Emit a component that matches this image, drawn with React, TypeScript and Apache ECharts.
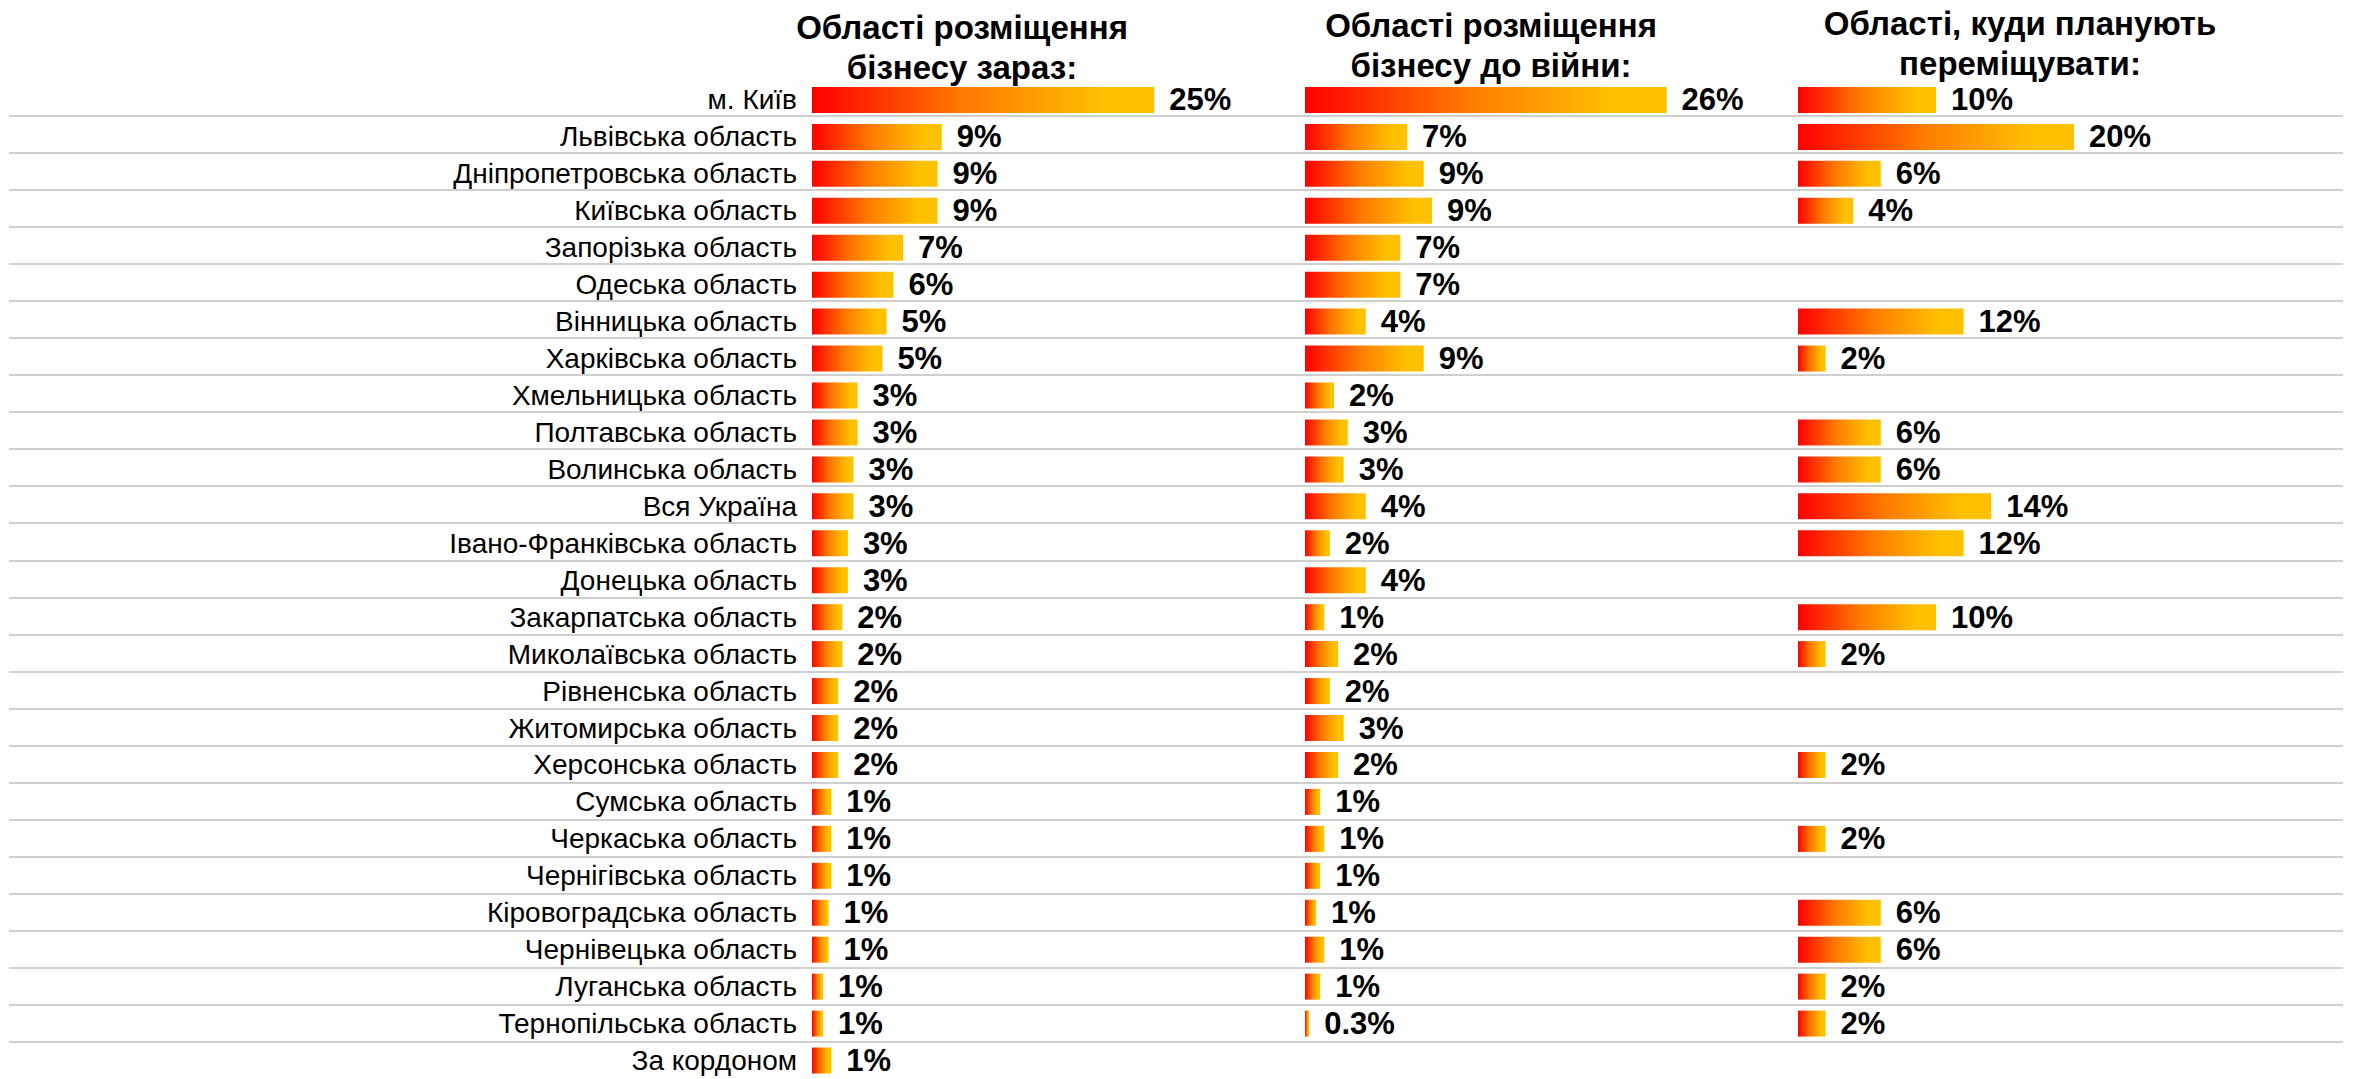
import React, { useEffect, useRef } from "react";
import * as echarts from "echarts";

const categories = [
  "м. Київ",
  "Львівська область",
  "Дніпропетровська область",
  "Київська область",
  "Запорізька область",
  "Одеська область",
  "Вінницька область",
  "Харківська область",
  "Хмельницька область",
  "Полтавська область",
  "Волинська область",
  "Вся Україна",
  "Івано-Франківська область",
  "Донецька область",
  "Закарпатська область",
  "Миколаївська область",
  "Рівненська область",
  "Житомирська область",
  "Херсонська область",
  "Сумська область",
  "Черкаська область",
  "Чернігівська область",
  "Кіровоградська область",
  "Чернівецька область",
  "Луганська область",
  "Тернопільська область",
  "За кордоном",
];

const currentValues = [
  24.8, 9.4, 9.1, 9.1, 6.6, 5.9, 5.4, 5.1, 3.3, 3.3, 3.0, 3.0, 2.6, 2.6, 2.2,
  2.2, 1.9, 1.9, 1.9, 1.4, 1.4, 1.4, 1.2, 1.2, 0.8, 0.8, 1.4,
];

const prewarValues = [
  26.2, 7.4, 8.6, 9.2, 6.9, 6.9, 4.4, 8.6, 2.1, 3.1, 2.8, 4.4, 1.8, 4.4, 1.4,
  2.4, 1.8, 2.8, 2.4, 1.1, 1.4, 1.1, 0.8, 1.4, 1.1, 0.3, null,
];

const relocateValues = [
  10, 20, 6, 4, null, null, 12, 2, null, 6, 6, 14, 12, null, 10, 2, null, null,
  2, null, 2, null, 6, 6, 2, 2, null,
];

const columnTitles = [
  "Області розміщення\nбізнесу зараз:",
  "Області розміщення\nбізнесу до війни:",
  "Області, куди планують\nпереміщувати:",
];

const FONT = "'Liberation Sans', Arial, Helvetica, sans-serif";

function fmt(v: number) {
  if (v == null) return "";
  return (v < 0.5 ? v.toFixed(1) : String(Math.round(v))) + "%";
}

export default function App() {
  const ref = useRef<HTMLDivElement>(null);

  useEffect(() => {
    if (!ref.current) return;
    const chart = echarts.init(ref.current, null, { renderer: "svg" });

    const rowPitch = 37.08;
    const gridTop = 100 - rowPitch / 2;
    const gridHeight = rowPitch * categories.length;
    const pxPerPct = 13.8;
    const xMax = 30;
    const lefts = [812, 1305, 1798];
    const titleCenters = [962, 1491, 2020];
    const titleTops = [7, 5, 3];

    const gradient = () =>
      new echarts.graphic.LinearGradient(0, 0, 1, 0, [
        { offset: 0, color: "#ff0000" },
        { offset: 0.45, color: "#ff7a00" },
        { offset: 0.85, color: "#ffc000" },
        { offset: 1, color: "#ffc000" },
      ]);

    const grids: any[] = lefts.map((l) => ({
      left: l,
      top: gridTop,
      width: xMax * pxPerPct,
      height: gridHeight,
      containLabel: false,
    }));
    grids.push({
      left: 9,
      right: 13,
      top: gridTop - 2.9,
      height: gridHeight,
      containLabel: false,
    });

    const xAxes: any[] = lefts.map((_, i) => ({
      gridIndex: i,
      type: "value",
      min: 0,
      max: xMax,
      show: false,
    }));
    xAxes.push({ gridIndex: 3, type: "value", min: 0, max: 1, show: false });

    const yAxes: any[] = lefts.map((_, i) => ({
      gridIndex: i,
      type: "category",
      inverse: true,
      data: categories,
      axisLine: { show: false },
      axisTick: { show: false },
      splitLine: { show: false },
      axisLabel: {
        show: i === 0,
        margin: 15,
        fontSize: 28,
        color: "#000",
        fontFamily: FONT,
      },
    }));
    yAxes.push({
      gridIndex: 3,
      type: "category",
      inverse: true,
      data: categories,
      axisLine: { show: false },
      axisTick: { show: false },
      axisLabel: { show: false },
      splitLine: {
        show: true,
        showMinLine: false,
        showMaxLine: false,
        lineStyle: { color: "#bfbfbf", width: 1.6 },
      },
    });

    const seriesData = [currentValues, prewarValues, relocateValues];

    const series: any[] = seriesData.map((vals, i) => ({
      type: "bar",
      xAxisIndex: i,
      yAxisIndex: i,
      barWidth: 26,
      data: vals,
      itemStyle: { color: gradient() },
      label: {
        show: true,
        position: "right",
        distance: 15,
        fontSize: 31,
        fontWeight: "bold",
        color: "#000",
        fontFamily: FONT,
        formatter: (p: any) => fmt(p.value),
      },
    }));

    chart.setOption({
      animation: false,
      backgroundColor: "#ffffff",
      title: columnTitles.map((t, i) => ({
        text: t,
        left: titleCenters[i],
        top: titleTops[i],
        padding: 0,
        textAlign: "center",
        textStyle: {
          fontSize: 33,
          fontWeight: "bold",
          color: "#000",
          lineHeight: 40,
          fontFamily: FONT,
        },
      })),
      grid: grids,
      xAxis: xAxes,
      yAxis: yAxes,
      series,
    });

    return () => chart.dispose();
  }, []);

  return (
    <div
      ref={ref}
      style={{
        position: "absolute",
        left: 0,
        top: 0,
        width: 2356,
        height: 1079,
        background: "#fff",
      }}
    />
  );
}
